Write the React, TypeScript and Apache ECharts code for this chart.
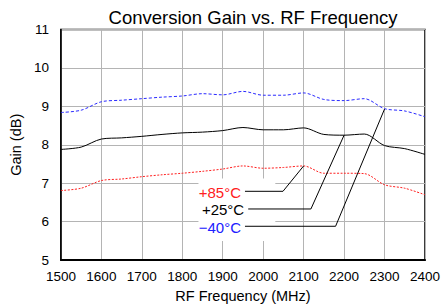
import React, { useEffect, useRef } from "react";
import * as echarts from "echarts";

const freqs = [1500, 1550, 1600, 1650, 1700, 1750, 1800, 1850, 1900, 1950, 2000, 2050, 2100, 2150, 2200, 2250, 2300, 2350, 2400];
const gainM40 = [8.84, 8.9, 9.12, 9.16, 9.2, 9.24, 9.27, 9.33, 9.3, 9.39, 9.29, 9.29, 9.35, 9.18, 9.15, 9.2, 8.94, 8.88, 8.73];
const gainP25 = [7.88, 7.94, 8.15, 8.18, 8.22, 8.27, 8.31, 8.33, 8.37, 8.45, 8.39, 8.39, 8.44, 8.27, 8.25, 8.28, 7.98, 7.9, 7.75];
const gainP85 = [6.81, 6.87, 7.07, 7.11, 7.17, 7.22, 7.26, 7.31, 7.37, 7.45, 7.39, 7.41, 7.45, 7.26, 7.26, 7.25, 6.96, 6.87, 6.7];

const labels = ["+85°C", "+25°C", "\u221240°C"];
const labelColors = ["#ff2020", "#000000", "#2020ff"];
// leader lines: [label line start freq, elbow freq, level gain, anchor freq, anchor gain]
const leaderStart = [1955, 1963, 1955];
const leaderElbow = [2049, 2118, 2179];
const leaderLevel = [6.79, 6.33, 5.88];
const anchorFreq = [2100, 2200, 2300];
const anchorGain = [7.45, 8.25, 8.93];

export default function App() {
  const ref = useRef<HTMLDivElement>(null);
  useEffect(() => {
    const chart = echarts.init(ref.current!, null, { renderer: "svg" });
    const font = "Liberation Sans, Arial, Helvetica, sans-serif";
    const mk = (data: number[], color: string, type: any) => ({
      type: "line",
      data: freqs.map((f, i) => [f, data[i]]),
      showSymbol: false,
      smooth: 0.3,
      lineStyle: { color, width: 1, type },
      z: 3,
    });
    chart.setOption({
      animation: false,
      title: {
        text: "Conversion Gain vs. RF Frequency",
        left: 248,
        textAlign: "center",
        top: 3,
        textStyle: { fontFamily: font, fontSize: 18.5, fontWeight: "normal", color: "#000" },
      },
      grid: {
        left: 59.5, right: 17, top: 29.5, bottom: 45.7,
        show: true, borderColor: "#000", borderWidth: 1.5,
      },
      xAxis: {
        type: "value", min: 1500, max: 2400, interval: 100,
        name: "RF Frequency (MHz)", nameLocation: "middle", nameGap: 25,
        nameTextStyle: { fontFamily: font, fontSize: 14.5, color: "#000" },
        axisLine: { show: true, lineStyle: { color: "#000", width: 2 } },
        axisTick: { show: false },
        axisLabel: { fontFamily: font, fontSize: 13.5, color: "#000", margin: 9, formatter: (v: number) => String(v) },
        splitLine: { show: true, lineStyle: { color: "#b4b4b4", width: 1 } },
      },
      yAxis: {
        type: "value", min: 5, max: 11, interval: 1,
        name: "Gain (dB)", nameLocation: "middle", nameGap: 37,
        nameTextStyle: { fontFamily: font, fontSize: 14.5, color: "#000" },
        axisLine: { show: true, lineStyle: { color: "#000", width: 1.5 } },
        axisTick: { show: false },
        axisLabel: { fontFamily: font, fontSize: 13.5, color: "#000", margin: 12 },
        splitLine: { show: true, lineStyle: { color: "#b4b4b4", width: 1 } },
      },
      series: [
        mk(gainM40, "#2a2aff", [3, 2]),
        mk(gainP25, "#000000", "solid"),
        mk(gainP85, "#ff2020", [2, 1.5]),
      ],
    });
    const p = (f: number, g: number) => chart.convertToPixel({ gridIndex: 0 }, [f, g]) as number[];
    const elems: any[] = [];
    // white box behind labels
    const tl = p(1840, 7.12);
    const br = p(2030, 5.5);
    elems.push({ type: "rect", shape: { x: tl[0], y: tl[1], width: br[0] - tl[0], height: br[1] - tl[1] }, style: { fill: "#fff" }, z: 10 });
    labels.forEach((t, i) => {
      const s = p(leaderStart[i], leaderLevel[i]);
      const e = p(leaderElbow[i], leaderLevel[i]);
      const a = p(anchorFreq[i], anchorGain[i]);
      elems.push({ type: "polyline", shape: { points: [s, e, a] }, style: { stroke: "#000", lineWidth: 1, fill: null }, z: 11 });
      elems.push({
        type: "text", x: s[0] - 4, y: s[1] + 1, z: 12,
        style: { text: t, fill: labelColors[i], font: `15px ${font}`, textAlign: "right", textVerticalAlign: "middle" },
      });
    });
    chart.setOption({ graphic: elems });
    return () => chart.dispose();
  }, []);
  return <div ref={ref} style={{ position: "absolute", left: 0, top: 0, width: 443, height: 308 }} />;
}
